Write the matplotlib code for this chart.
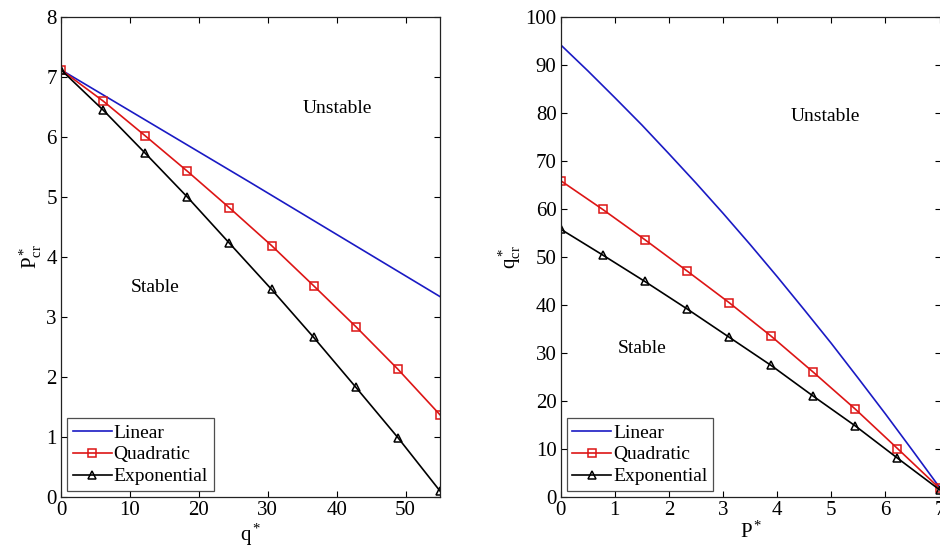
import numpy as np
import matplotlib
matplotlib.use("Agg")
import matplotlib.pyplot as plt

plt.rcParams['font.family'] = ['Liberation Serif', 'DejaVu Serif']
plt.rcParams['mathtext.fontset'] = 'custom'
plt.rcParams['mathtext.rm'] = 'Liberation Serif'
plt.rcParams['mathtext.it'] = 'Liberation Serif:italic'

# left panel: critical load vs. q*
q_lin = [0, 27.5, 55]
p_lin = [7.12, 5.24, 3.34]
q_pts = [0, 6.11, 12.22, 18.33, 24.44, 30.56, 36.67, 42.78, 48.89, 55]
p_quad = [7.12, 6.60, 6.02, 5.43, 4.82, 4.19, 3.52, 2.84, 2.13, 1.37]
p_exp = [7.12, 6.45, 5.73, 5.00, 4.23, 3.46, 2.66, 1.83, 0.99, 0.10]

# right panel: critical q vs. P*
P_lin = [0, 0.5, 1, 1.5, 2, 2.5, 3, 3.5, 4, 4.5, 5, 5.5, 6, 6.5, 7]
qc_lin = [94.2, 88.8, 83.2, 77.5, 71.5, 65.4, 59.1, 52.6, 45.9, 39.0, 32.0, 24.7, 17.3, 9.7, 2.0]
P_pts = [0, 0.778, 1.556, 2.333, 3.111, 3.889, 4.667, 5.444, 6.222, 7.0]
qc_quad = [65.9, 59.9, 53.6, 47.1, 40.5, 33.5, 26.0, 18.3, 10.1, 1.8]
qc_exp = [55.8, 50.4, 44.9, 39.2, 33.3, 27.4, 21.0, 14.8, 8.1, 1.5]

blue = '#1a1ac4'
red = '#dd1515'
fs = 15
fs_txt = 14

fig = plt.figure(figsize=(9.4, 5.49), dpi=100)
ax1 = fig.add_axes([61/940, 52/549, 379/940, 480/549])
ax2 = fig.add_axes([560.7/940, 52/549, 380.5/940, 480/549])


def style(ax):
    ax.tick_params(direction='in', top=True, right=True, length=4,
                   width=0.8, labelsize=fs, pad=3)
    for s in ax.spines.values():
        s.set_linewidth(0.9)
        s.set_color('#222222')


ax1.plot(q_lin, p_lin, color=blue, lw=1.2, label='Linear')
ax1.plot(q_pts, p_quad, color=red, lw=1.2, marker='s', ms=6,
         mfc='none', mew=1.1, label='Quadratic')
ax1.plot(q_pts, p_exp, color='black', lw=1.2, marker='^', ms=6,
         mfc='none', mew=1.1, label='Exponential')
ax1.set_xlim(0, 55)
ax1.set_ylim(0, 8)
ax1.set_xticks(np.arange(0, 51, 10))
ax1.set_yticks(np.arange(0, 9, 1))
ax1.set_xlabel(r'$\mathregular{q^*}$', fontsize=fs, labelpad=1)
ax1.set_ylabel(r'$\mathregular{P^*_{cr}}$', fontsize=fs, labelpad=2)
ax1.text(40.1, 6.47, 'Unstable', fontsize=fs_txt, ha='center', va='center')
ax1.text(13.6, 3.5, 'Stable', fontsize=fs_txt, ha='center', va='center')
style(ax1)

ax2.plot(P_lin, qc_lin, color=blue, lw=1.2, label='Linear')
ax2.plot(P_pts, qc_quad, color=red, lw=1.2, marker='s', ms=6,
         mfc='none', mew=1.1, label='Quadratic')
ax2.plot(P_pts, qc_exp, color='black', lw=1.2, marker='^', ms=6,
         mfc='none', mew=1.1, label='Exponential')
ax2.set_xlim(0, 7.03)
ax2.set_ylim(0, 100)
ax2.set_xticks(np.arange(0, 8, 1))
ax2.set_yticks(np.arange(0, 101, 10))
ax2.set_xlabel(r'$\mathregular{P^*}$', fontsize=fs, labelpad=1)
ax2.set_ylabel(r'$\mathregular{q^*_{cr}}$', fontsize=fs, labelpad=2)
ax2.text(4.89, 79.2, 'Unstable', fontsize=fs_txt, ha='center', va='center')
ax2.text(1.50, 30.9, 'Stable', fontsize=fs_txt, ha='center', va='center')
style(ax2)

for ax in (ax1, ax2):
    leg = ax.legend(loc='lower left', fontsize=fs_txt, numpoints=1,
                    fancybox=False, frameon=True, borderaxespad=0.3,
                    handlelength=2.0, handletextpad=0.1, labelspacing=0.22,
                    borderpad=0.3)
    leg.get_frame().set_edgecolor('#222222')
    leg.get_frame().set_linewidth(0.9)

fig.savefig('out.png', dpi=100)
